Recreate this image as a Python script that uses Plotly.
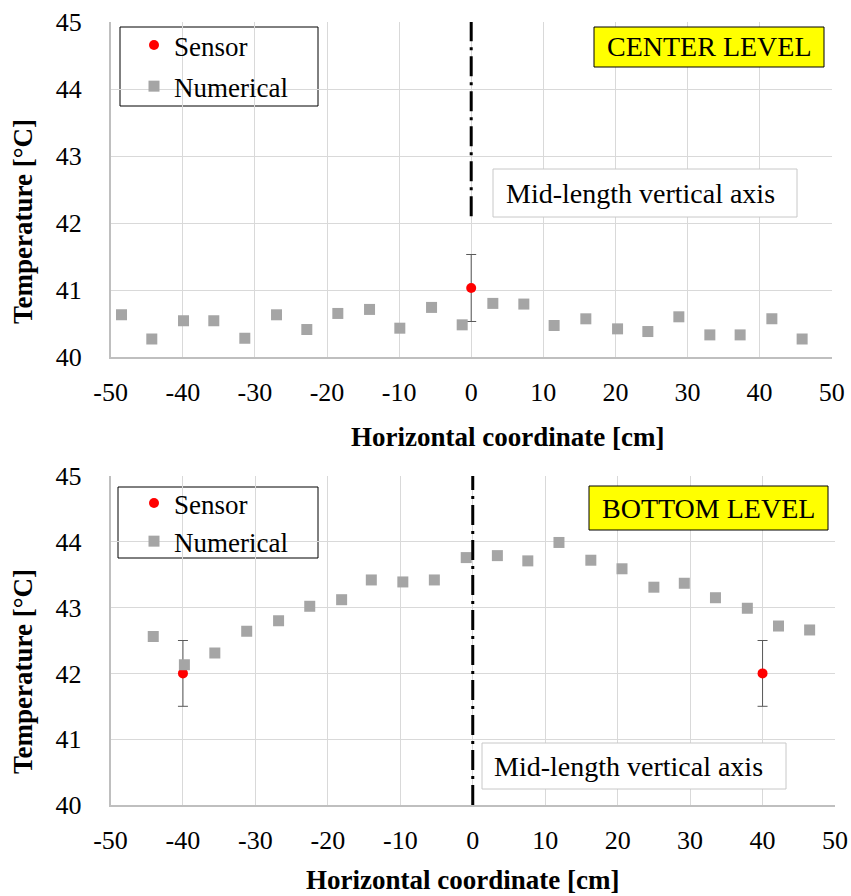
import plotly.graph_objects as go

# ---- data ---------------------------------------------------------------
x_tick_vals = [-50, -40, -30, -20, -10, 0, 10, 20, 30, 40, 50]
x_tick_text = ["-50", "-40", "-30", "-20", "-10", "0", "10", "20", "30", "40", "50"]
y_tick_vals = [40, 41, 42, 43, 44, 45]

# centre level
center_num_x = [-48.5, -44.3, -39.9, -35.7, -31.4, -27.0, -22.8, -18.5, -14.1, -9.9, -5.5, -1.25,
                3.0, 7.3, 11.5, 15.9, 20.3, 24.5, 28.8, 33.1, 37.3, 41.7, 45.9]
center_num_t = [40.63, 40.27, 40.54, 40.54, 40.28, 40.63, 40.41, 40.65, 40.71, 40.43, 40.74, 40.48,
                40.80, 40.79, 40.47, 40.57, 40.42, 40.38, 40.60, 40.33, 40.33, 40.57, 40.27]
center_sensor_x = [0]
center_sensor_t = [41.03]
center_sensor_err = [0.5]

# bottom level
bottom_num_x = [-44.1, -39.8, -35.6, -31.2, -26.8, -22.5, -18.1, -14.0, -9.65, -5.3, -0.9,
                3.4, 7.6, 11.9, 16.3, 20.6, 25.0, 29.2, 33.5, 37.9, 42.2, 46.5]
bottom_num_t = [42.56, 42.13, 42.31, 42.64, 42.80, 43.02, 43.12, 43.42, 43.39, 43.42, 43.76,
                43.79, 43.71, 43.99, 43.72, 43.59, 43.31, 43.37, 43.15, 42.99, 42.72, 42.66]
bottom_sensor_x = [-40, 40]
bottom_sensor_t = [42.0, 42.0]
bottom_sensor_err = [0.5, 0.5]

mid_axis_x = 0
center_mid_line = (42.1, 45)
bottom_mid_line = (40, 45)

# ---- styling ------------------------------------------------------------
W, H = 851, 896
FONT = "Liberation Serif, Times New Roman, serif"
GRAY = "#a5a5a5"
GRID = "#d9d9d9"
AXLINE = "#bfbfbf"


def fx(px):
    return px / W


def fy(py):
    return 1 - py / H


fig = go.Figure()

# sensor points first so the numerical squares sit on top of them
fig.add_trace(go.Scatter(
    x=center_sensor_x, y=center_sensor_t, mode="markers", name="Sensor",
    marker=dict(color="#ff0000", size=10, symbol="circle"),
    error_y=dict(type="data", array=center_sensor_err, color="#595959", thickness=1, width=5),
    xaxis="x", yaxis="y", legend="legend", legendgroup="s1"))
fig.add_trace(go.Scatter(
    x=center_num_x, y=center_num_t, mode="markers", name="Numerical",
    marker=dict(color=GRAY, size=11, symbol="square"),
    xaxis="x", yaxis="y", legend="legend", legendgroup="n1"))

fig.add_trace(go.Scatter(
    x=bottom_sensor_x, y=bottom_sensor_t, mode="markers", name="Sensor",
    marker=dict(color="#ff0000", size=10, symbol="circle"),
    error_y=dict(type="data", array=bottom_sensor_err, color="#595959", thickness=1, width=5),
    xaxis="x2", yaxis="y2", legend="legend2", legendgroup="s2"))
fig.add_trace(go.Scatter(
    x=bottom_num_x, y=bottom_num_t, mode="markers", name="Numerical",
    marker=dict(color=GRAY, size=11, symbol="square"),
    xaxis="x2", yaxis="y2", legend="legend2", legendgroup="n2"))

tick_font = dict(family=FONT, size=26, color="black")

xaxis_common = dict(
    range=[-50, 50], tickmode="array", tickvals=x_tick_vals, ticktext=x_tick_text,
    showgrid=True, gridcolor=GRID, gridwidth=1, zeroline=False,
    showline=True, linecolor=AXLINE, linewidth=1.5, ticks="",
    tickfont=tick_font, ticklabelstandoff=11, automargin=False, fixedrange=True)
yaxis_common = dict(
    range=[40, 45], tickmode="array", tickvals=y_tick_vals,
    showgrid=True, gridcolor=GRID, gridwidth=1, zeroline=False,
    showline=True, linecolor=AXLINE, linewidth=1.5, ticks="",
    tickfont=tick_font, ticklabelstandoff=22, automargin=False, fixedrange=True)

legend_font = dict(family=FONT, size=27, color="black")

fig.update_layout(
    width=W, height=H,
    margin=dict(l=0, r=0, t=0, b=0),
    paper_bgcolor="white", plot_bgcolor="white",
    font=dict(family=FONT, color="black"),
    xaxis=dict(xaxis_common, domain=[fx(110.7), fx(831.7)], anchor="y"),
    yaxis=dict(yaxis_common, domain=[fy(357), fy(22)], anchor="x"),
    xaxis2=dict(xaxis_common, domain=[fx(110.5), fx(835)], anchor="y2"),
    yaxis2=dict(yaxis_common, domain=[fy(805), fy(476)], anchor="x2"),
    legend=dict(x=fx(134), y=fy(21), xanchor="left", yanchor="top",
                bgcolor="rgba(0,0,0,0)", borderwidth=0, tracegroupgap=3,
                font=legend_font),
    legend2=dict(x=fx(134), y=fy(479), xanchor="left", yanchor="top",
                 bgcolor="rgba(0,0,0,0)", borderwidth=0, tracegroupgap=0,
                 font=legend_font),
    showlegend=True,
)

shapes = []
# mid-length vertical axis (dash-dot)
shapes.append(dict(type="line", xref="x", yref="y", x0=mid_axis_x, x1=mid_axis_x,
                   y0=center_mid_line[0], y1=center_mid_line[1],
                   line=dict(color="black", width=3, dash="20px,6px,3px,6px")))
shapes.append(dict(type="line", xref="x2", yref="y2", x0=mid_axis_x, x1=mid_axis_x,
                   y0=bottom_mid_line[0], y1=bottom_mid_line[1],
                   line=dict(color="black", width=3, dash="20px,6px,3px,6px")))


def box(x0, y0, x1, y1, fill, border, width=1):
    return dict(type="rect", xref="paper", yref="paper",
                x0=fx(x0), x1=fx(x1), y0=fy(y1), y1=fy(y0),
                fillcolor=fill, line=dict(color=border, width=width), layer="above")


# legend frames
shapes.append(dict(box(120, 27, 318, 106, "rgba(0,0,0,0)", "black"), layer="below"))
shapes.append(dict(box(118, 487, 318, 558, "rgba(0,0,0,0)", "black"), layer="below"))
# level labels
shapes.append(box(594, 27, 824, 67, "#ffff00", "black"))
shapes.append(box(589, 486, 828, 530, "#ffff00", "black"))
# mid-length axis labels
shapes.append(box(493, 169, 797, 217, "white", "#c8c8c8"))
shapes.append(box(482, 743, 786, 789, "white", "#c8c8c8"))

fig.update_layout(shapes=shapes)

anns = []


def text(s, cx, cy, size=28, bold=False, angle=0):
    return dict(text=f"<b>{s}</b>" if bold else s, xref="paper", yref="paper",
                x=fx(cx), y=fy(cy), xanchor="center", yanchor="middle",
                showarrow=False, textangle=angle,
                font=dict(family=FONT, size=size, color="black"))


anns.append(text("CENTER LEVEL", 709, 47))
anns.append(text("BOTTOM LEVEL", 708, 508))
anns.append(text("Mid-length vertical axis", 640, 193))
anns.append(text("Mid-length vertical axis", 628, 766))
# axis titles
anns.append(text("Horizontal coordinate [cm]", 507, 437, size=27, bold=True))
anns.append(text("Horizontal coordinate [cm]", 462, 880, size=27, bold=True))
anns.append(text("Temperature [°C]", 23, 222, size=27, bold=True, angle=-90))
anns.append(text("Temperature [°C]", 23, 672, size=27, bold=True, angle=-90))

fig.update_layout(annotations=anns)

fig.write_html("out.html")
